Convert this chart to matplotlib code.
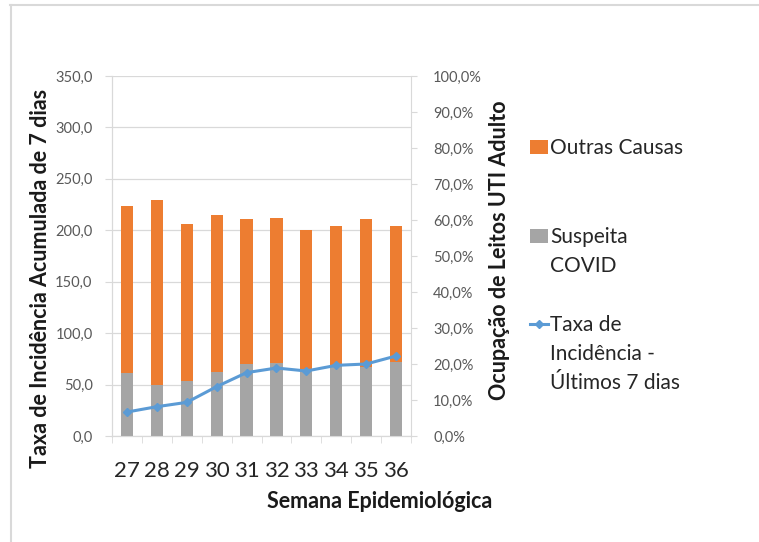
import matplotlib.pyplot as plt
from matplotlib.lines import Line2D
from matplotlib.ticker import FuncFormatter, MultipleLocator

plt.rcParams['font.family'] = ['Lato', 'DejaVu Sans']

# Dados
semanas = ['27', '28', '29', '30', '31', '32', '33', '34', '35', '36']
suspeita_covid = [17.4, 14.2, 15.4, 17.8, 19.9, 20.3, 18.5, 19.7, 19.3, 20.5]   # % ocupação
total_ocupacao = [64.0, 65.6, 59.0, 61.4, 60.2, 60.6, 57.2, 58.4, 60.3, 58.2]   # % ocupação
outras_causas = [t - s for t, s in zip(total_ocupacao, suspeita_covid)]
taxa_incidencia = [23.3, 28.5, 32.7, 48.0, 61.6, 66.1, 63.2, 68.7, 70.0, 77.8]

cor_laranja = '#ED7D31'
cor_cinza = '#A5A5A5'
cor_azul = '#5B9BD5'
cor_grade = '#D9D9D9'
cor_texto = '#595959'
cor_titulo = '#1a1a1a'

fig = plt.figure(figsize=(7.59, 5.42), dpi=100)
ax = fig.add_axes([112 / 759, 1 - 436 / 542, 299 / 759, 360 / 542])
ax2 = ax.twinx()
ax3 = ax.twinx()

x = range(len(semanas))

# eixo esquerdo: grade e rótulos
ax.set_ylim(0, 350)
ax.yaxis.set_major_locator(MultipleLocator(50))
ax.yaxis.set_major_formatter(FuncFormatter(lambda v, p: f'{v:.1f}'.replace('.', ',')))
ax.grid(axis='y', color=cor_grade, lw=0.9)
ax.set_axisbelow(True)
ax.tick_params(axis='y', length=5, color=cor_grade, labelcolor=cor_texto,
               labelsize=10.5, pad=9)

# eixo direito: barras empilhadas
b_covid = ax2.bar(x, suspeita_covid, width=0.41, color=cor_cinza)
b_outras = ax2.bar(x, outras_causas, width=0.41, bottom=suspeita_covid, color=cor_laranja)
ax2.set_ylim(0, 100)
ax2.yaxis.set_major_locator(MultipleLocator(10))
ax2.yaxis.set_major_formatter(FuncFormatter(lambda v, p: f'{v:.1f}%'.replace('.', ',')))
ax2.tick_params(axis='y', length=4, color=cor_grade, labelcolor=cor_texto,
                labelsize=10.5, pad=12)

# linha da taxa (escala do eixo esquerdo)
linha, = ax3.plot(x, taxa_incidencia, color=cor_azul, lw=2.2, marker='D', markersize=4)
ax3.set_ylim(0, 350)
ax3.axis('off')

ax.set_xlim(-0.5, len(semanas) - 0.5)
ax.set_xticks(list(x))
ax.set_xticklabels(semanas)
ax.set_xticks([i - 0.5 for i in range(len(semanas) + 1)], minor=True)
ax.tick_params(axis='x', which='major', length=0, labelsize=16, pad=18, labelcolor='#262626')
ax.tick_params(axis='x', which='minor', length=5, color=cor_grade)

for a in (ax, ax2):
    a.spines['top'].set_visible(False)
    a.spines['left'].set_color(cor_grade)
    a.spines['right'].set_color(cor_grade)
    a.spines['bottom'].set_color(cor_grade)
ax.spines['right'].set_visible(False)

fig.text(41 / 759, 1 - 278 / 542, 'Taxa de Incidência Acumulada de 7 dias', rotation=90,
         ha='center', va='center', fontsize=15.5, fontweight='bold', color=cor_titulo)
fig.text(499 / 759, 1 - 250 / 542, 'Ocupação de Leitos UTI Adulto', rotation=90,
         ha='center', va='center', fontsize=15.5, fontweight='bold', color=cor_titulo)
fig.text(380 / 759, 1 - 502 / 542, 'Semana Epidemiológica',
         ha='center', va='center', fontsize=15.5, fontweight='bold', color=cor_titulo)

# legenda: uma entrada por vez, com as linhas seguintes como texto
entradas = [
    (b_outras, ['Outras Causas'], 148),
    (b_covid, ['Suspeita', 'COVID'], 237),
    (linha, ['Taxa de', 'Incidência -', 'Últimos 7 dias'], 325),
]
for handle, linhas, y0 in entradas:
    leg = fig.legend([handle], [linhas[0]], loc='center left',
                     bbox_to_anchor=(530 / 759, 1 - y0 / 542), frameon=False,
                     fontsize=15, handlelength=0.85, handleheight=0.65,
                     handletextpad=0.1, borderpad=0, borderaxespad=0,
                     labelcolor='#262626')
    for k, txt in enumerate(linhas[1:], start=1):
        fig.text(550 / 759, 1 - (y0 + 29 * k) / 542, txt, ha='left', va='center',
                 fontsize=15, color='#262626')

# moldura da área do gráfico
fig.add_artist(Line2D([10 / 759, 758 / 759], [1 - 5 / 542, 1 - 5 / 542],
                      color=cor_grade, lw=1.5))
fig.add_artist(Line2D([11 / 759, 11 / 759], [1 - 5 / 542, 0], color=cor_grade, lw=1.5))

fig.savefig('out.png', dpi=100)
